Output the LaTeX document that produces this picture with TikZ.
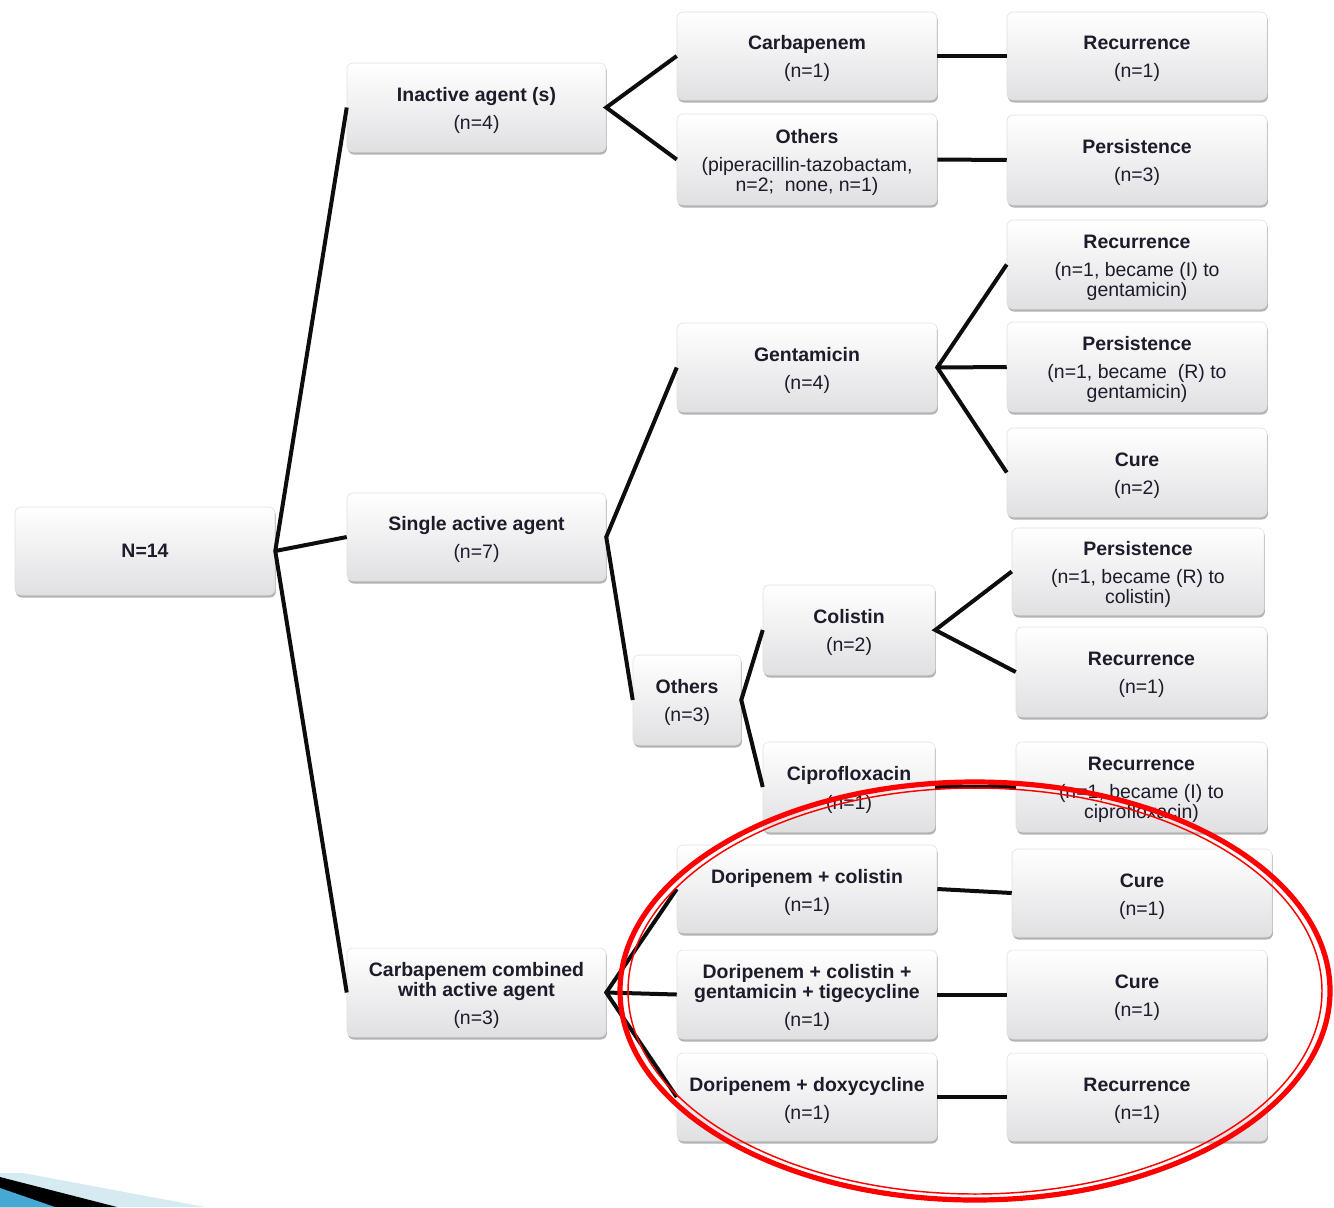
\documentclass[tikz,border=0pt]{standalone}
\usepackage{fontspec}
\setmainfont{Liberation Sans}
\usetikzlibrary{shadows}
\definecolor{txt}{RGB}{28,28,42}
\definecolor{lblue}{RGB}{214,234,242}
\definecolor{mblue}{RGB}{70,168,212}
\definecolor{boxbot}{RGB}{224,224,227}
\tikzset{
  box/.style={rounded corners=4.5pt, top color=white, bottom color=boxbot,
    draw=gray!25, line width=0.4pt,
    drop shadow={shadow xshift=0.7pt, shadow yshift=-1.9pt, fill=gray!85, opacity=0.7},
    align=center, text=txt, font=\fontsize{14.6}{15}\selectfont, inner sep=0pt},
  link/.style={line width=3pt, black!95},
  ringthick/.style={draw=red, line width=3.9pt},
  ringthin/.style={draw=red, line width=1.1pt}
}
\newcommand\bx[6]{\node[box, minimum width={(#4-#2)*0.75pt}, minimum height={(#5-#3)*0.75pt}] (#1) at ({(#2+#4)/2},{(#3+#5)/2}) {\rule{0pt}{15pt}#6};}
\begin{document}
\begin{tikzpicture}[x=0.75pt,y=-0.75pt]
\useasboundingbox (0,0) rectangle (1334,1207);
% bottom-left decoration
\fill[lblue] (0,1173) -- (23,1173) -- (205,1207) -- (0,1207) -- cycle;
\fill[black] (0,1177) -- (117,1207) -- (0,1207) -- cycle;
\fill[mblue] (0,1188) -- (55,1207) -- (0,1207) -- cycle;
% boxes
\node[box, minimum width={260*0.75pt}, minimum height={88*0.75pt}] (root) at (145,551) {\textbf{N=14}};
\bx{inact}{347}{63}{606}{152}{\textbf{Inactive agent (s)}\\[6pt](n=4)}
\bx{single}{347}{493}{606}{581}{\textbf{Single active agent}\\[6pt](n=7)}
\bx{comb}{347}{948}{606}{1037}{\textbf{Carbapenem combined}\\\textbf{with active agent}\\[6pt](n=3)}
\bx{carba}{677}{12}{937}{100}{\textbf{Carbapenem}\\[6pt](n=1)}
\bx{othA}{677}{114}{937}{205}{\textbf{Others}\\[6pt](piperacillin-tazobactam,\\n=2;\ \ none, n=1)}
\bx{genta}{677}{323}{937}{412}{\textbf{Gentamicin}\\[6pt](n=4)}
\bx{othB}{633}{655}{741}{745}{\textbf{Others}\\[6pt](n=3)}
\bx{coli}{763}{585}{935}{675}{\textbf{Colistin}\\[6pt](n=2)}
\bx{cipro}{763}{742}{935}{832}{\textbf{Ciprofloxacin}\\[6pt](n=1)}
\bx{dcol}{677}{845}{937}{933}{\textbf{Doripenem + colistin}\\[6pt](n=1)}
\bx{dfour}{677}{950}{937}{1039}{\textbf{Doripenem + colistin +}\\\textbf{gentamicin + tigecycline}\\[6pt](n=1)}
\bx{ddoxy}{677}{1053}{937}{1141}{\textbf{Doripenem + doxycycline}\\[6pt](n=1)}
\bx{rA}{1007}{12}{1267}{100}{\textbf{Recurrence}\\[6pt](n=1)}
\bx{rB}{1007}{115}{1267}{205}{\textbf{Persistence}\\[6pt](n=3)}
\bx{rC}{1007}{220}{1267}{309}{\textbf{Recurrence}\\[6pt](n=1, became (I) to\\gentamicin)}
\bx{rD}{1007}{322}{1267}{412}{\textbf{Persistence}\\[6pt](n=1, became\ \ (R) to\\gentamicin)}
\bx{rE}{1007}{428}{1267}{517}{\textbf{Cure}\\[6pt](n=2)}
\bx{rF}{1012}{528}{1264}{615}{\textbf{Persistence}\\[6pt](n=1, became (R) to\\colistin)}
\bx{rG}{1016}{627}{1267}{717}{\textbf{Recurrence}\\[6pt](n=1)}
\bx{rH}{1016}{742}{1267}{832}{\textbf{Recurrence}\\[6pt](n=1, became (I) to\\ciprofloxacin)}
\bx{rI}{1012}{849}{1272}{937}{\textbf{Cure}\\[6pt](n=1)}
\bx{rJ}{1007}{950}{1267}{1039}{\textbf{Cure}\\[6pt](n=1)}
\bx{rK}{1007}{1053}{1267}{1141}{\textbf{Recurrence}\\[6pt](n=1)}
% connectors
\draw[link] (inact.west) -- (root.east) -- (comb.west);
\draw[link] (root.east) -- (single.west);
\draw[link] (carba.west) -- (inact.east) -- (othA.west);
\draw[link] (carba.east) -- (rA.west);
\draw[link] (othA.east) -- (rB.west);
\draw[link] (genta.west) -- (single.east) -- (othB.west);
\draw[link] (rC.west) -- (genta.east) -- (rE.west);
\draw[link] (genta.east) -- (rD.west);
\draw[link] (coli.west) -- (othB.east) -- (cipro.west);
\draw[link] (rF.west) -- (coli.east) -- (rG.west);
\draw[link] (cipro.east) -- (rH.west);
\draw[link] (dcol.west) -- (comb.east) -- (ddoxy.west);
\draw[link] (comb.east) -- (dfour.west);
\draw[link] (dcol.east) -- (rI.west);
\draw[link] (dfour.east) -- (rJ.west);
\draw[link] (ddoxy.east) -- (rK.west);
% red ellipse
\draw[ringthick] (975,991) ellipse [x radius=266.25pt, y radius=156.75pt];
\draw[ringthin] (975,991) ellipse [x radius=260.25pt, y radius=152.25pt];
\end{tikzpicture}
\end{document}
